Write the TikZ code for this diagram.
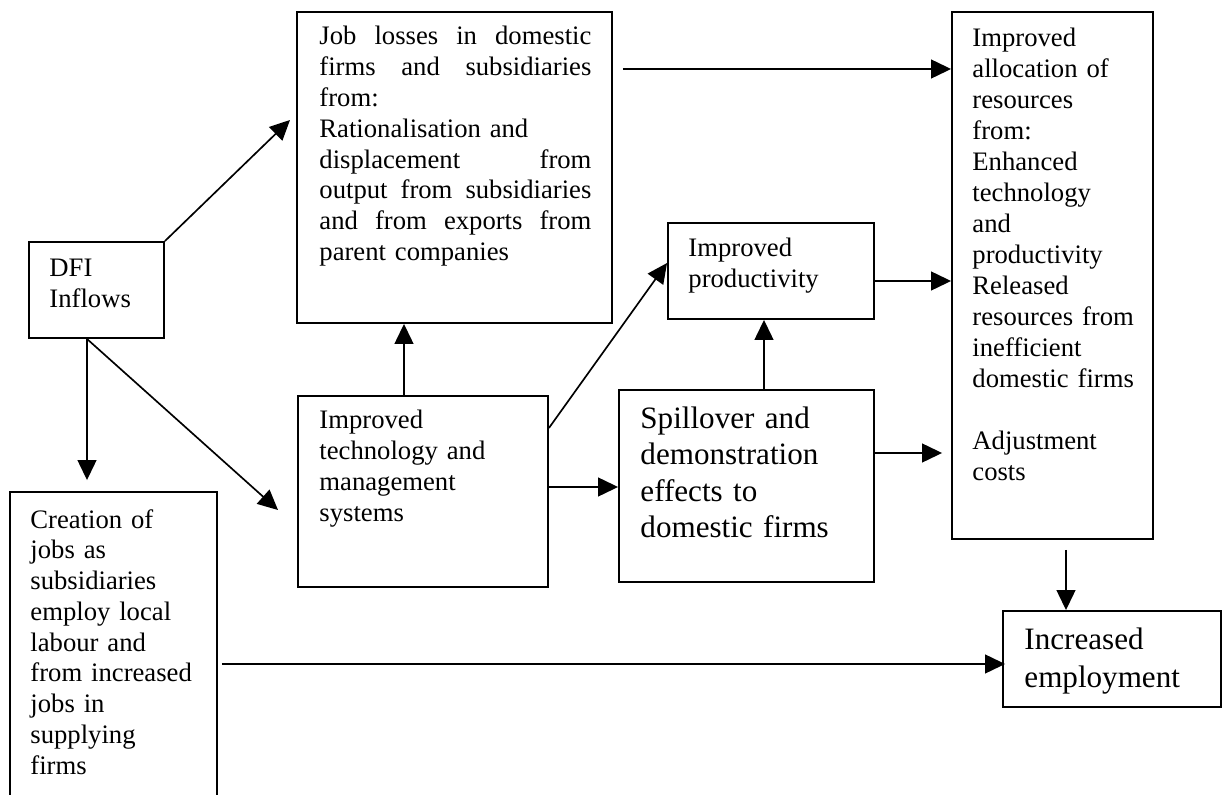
\documentclass[tikz,border=0pt]{standalone}
\usepackage{fontspec}
\setmainfont{Liberation Serif}
\usetikzlibrary{arrows.meta,fit,calc}
\begin{document}
\begin{tikzpicture}[x=0.45pt,y=-0.45pt,
  box/.style={draw,line width=0.85pt,inner sep=0pt},
  txt/.style={anchor=base west,inner sep=0pt,align=left},
  nf/.style={font=\fontsize{12}{13.85}\selectfont},
  bf/.style={font=\fontsize{14}{16.5}\selectfont},
  arr/.style={line width=0.75pt,-{Triangle[length=9pt,width=8.5pt]}}]
\useasboundingbox (0,0) rectangle (1226,795);
\fill[white] (0,0) rectangle (1226,795);
\clip (0,0) rectangle (1226,795);

% boxes
\node[box,fit={(29,242) (164,338)}] (dfi) {};
\node[box,fit={(297,12) (612,323)}] (job) {};
\node[box,fit={(298,396) (548,587)}] (tech) {};
\node[box,fit={(668,223) (874,319)}] (prod) {};
\node[box,fit={(619,390) (874,582)}] (spill) {};
\node[box,fit={(952,12) (1153,539)}] (alloc) {};
\node[box,fit={(10,492) (217,830)}] (create) {};
\node[box,fit={(1003,611) (1221,707)}] (emp) {};

% texts
\node[txt,nf,text width=40pt] (dfit) at (49,277) {DFI\\Inflows};
\node[txt,nf,text width=122.4pt] (jobt) at (319,45) {%
Job\hfill losses\hfill in\hfill domestic\\
firms\hfill and\hfill subsidiaries\\
from:\\
Rationalisation and\\
displacement\hfill from\\
output\hfill from\hfill subsidiaries\\
and\hfill from\hfill exports\hfill from\\
parent companies};
\node[txt,nf,text width=95pt] (techt) at (319,429) {Improved\\technology and\\management\\systems};
\node[txt,nf,text width=80pt] (prodt) at (688,257) {Improved\\productivity};
\node[txt,bf,text width=100pt] (spillt) at (640,428) {Spillover and\\demonstration\\effects to\\domestic firms};
\node[txt,font=\fontsize{12}{13.95}\selectfont,text width=82pt] (allot) at (972,47) {Improved\\allocation of\\resources\\from:\\Enhanced\\technology\\and\\productivity\\Released\\resources from\\inefficient\\domestic firms\\[13.95pt]Adjustment\\costs};
\node[txt,nf,text width=85pt] (createt) at (30,528) {Creation of\\jobs as\\subsidiaries\\employ local\\labour and\\from increased\\jobs in\\supplying\\firms};
\node[txt,font=\fontsize{14}{17.1}\selectfont,text width=85pt] (empt) at (1024,649) {Increased\\employment};

% connectors
\coordinate (jobin) at (290,120);
\coordinate (techin) at (278,510);
\draw[arr] (dfi.north east) -- (jobin);
\draw[arr] ($(job.east |- 0,69)+(10,0)$) -- (alloc.west |- 0,69);
\draw[arr] (dfi.south -| 87,0) -- ($(create.north -| 87,0)+(0,-11)$);
\draw[arr] (dfi.south -| 87,0) -- (techin);
\draw[arr] (tech.north -| 404,0) -- (job.south -| 404,0);
\draw[arr] (tech.east |- 0,428) -- (prod.west |- 0,263);
\draw[arr] (tech.east |- 0,487) -- (spill.west |- 0,487);
\draw[arr] (spill.north -| 764,0) -- (prod.south -| 764,0);
\draw[arr] (prod.east |- 0,281) -- (alloc.west |- 0,281);
\draw[arr] (spill.east |- 0,453) -- ($(alloc.west |- 0,453)+(-9,0)$);
\draw[arr] ($(alloc.south -| 1066,0)+(0,10)$) -- (emp.north -| 1066,0);
\draw[arr] ($(create.east |- 0,664)+(4,0)$) -- ($(emp.west |- 0,664)+(3,0)$);
\end{tikzpicture}
\end{document}
